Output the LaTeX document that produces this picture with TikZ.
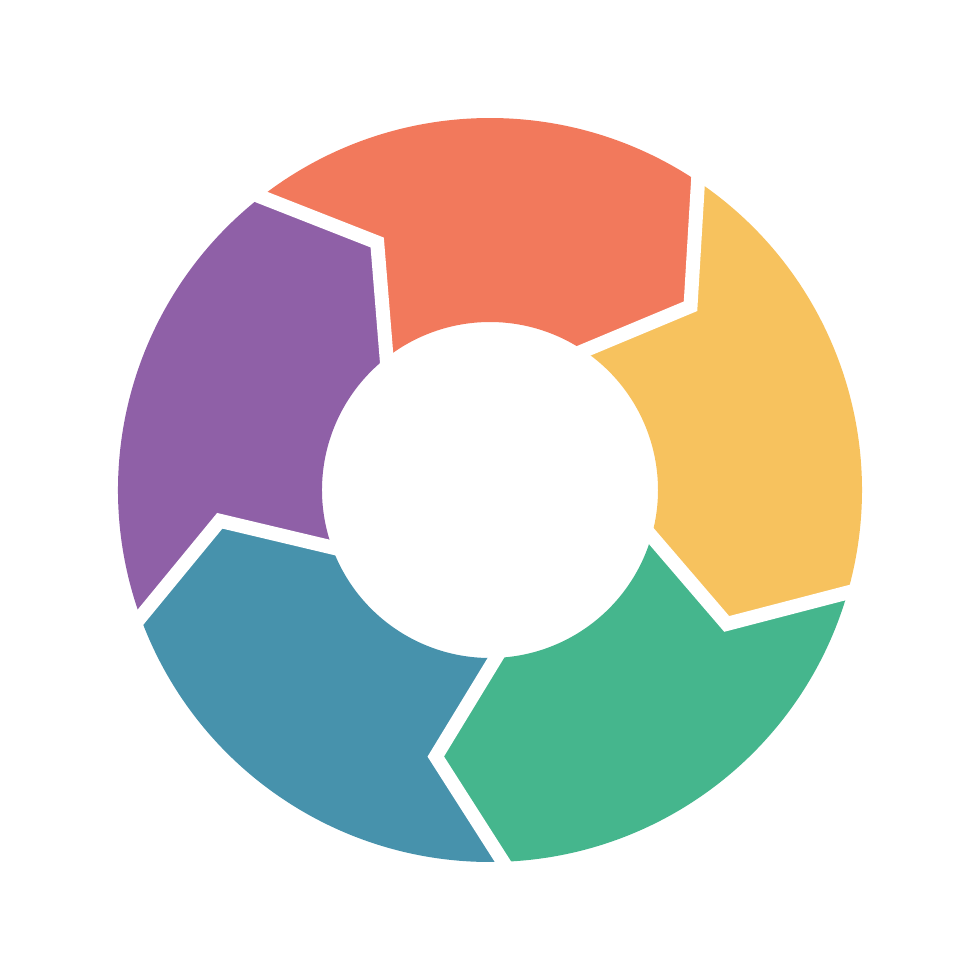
\documentclass[tikz,border=0pt]{standalone}
\usepackage{tikz}
\usepackage{xcolor}
\usetikzlibrary{calc}
\definecolor{segorange}{RGB}{242,121,92}
\definecolor{segyellow}{RGB}{247,194,94}
\definecolor{seggreen}{RGB}{69,182,141}
\definecolor{segblue}{RGB}{71,146,172}
\definecolor{segpurple}{RGB}{143,96,167}
\tikzset{%
  gap/.style={white,line width=0.14cm,line join=miter},
}

\begin{document}
\begin{tikzpicture}
      \useasboundingbox (0,0) rectangle (9.8,9.8);
      \coordinate (centre) at (4.9,4.9);

      % ring segments, each one from its own separator to the next
      \foreach \a/\col in {56/segorange,128/segpurple,200/segblue,272/seggreen,344/segyellow} {
        \pgfmathsetmacro{\b}{\a+72}
        \fill[\col,shift={(centre)}] (\a:3.72) arc[start angle=\a,end angle=\b,radius=3.72]
          -- ({\b-13.5}:2.72) -- (\b:1.68) arc[start angle=\b,end angle=\a,radius=1.68]
          -- ({\a-13.5}:2.72) -- cycle;
      }

      % white chevron separators
      \foreach \a in {56,128,...,344} {
        \coordinate (outer) at ($(centre)+(\a:3.72)$);
        \coordinate (mid) at ($(centre)+({\a-13.5}:2.72)$);
        \coordinate (inner) at ($(centre)+(\a:1.68)$);
        \draw[gap] ($(mid)!1.15!(outer)$) -- (mid) -- ($(mid)!1.2!(inner)$);
      }
    \end{tikzpicture}
\end{document}
